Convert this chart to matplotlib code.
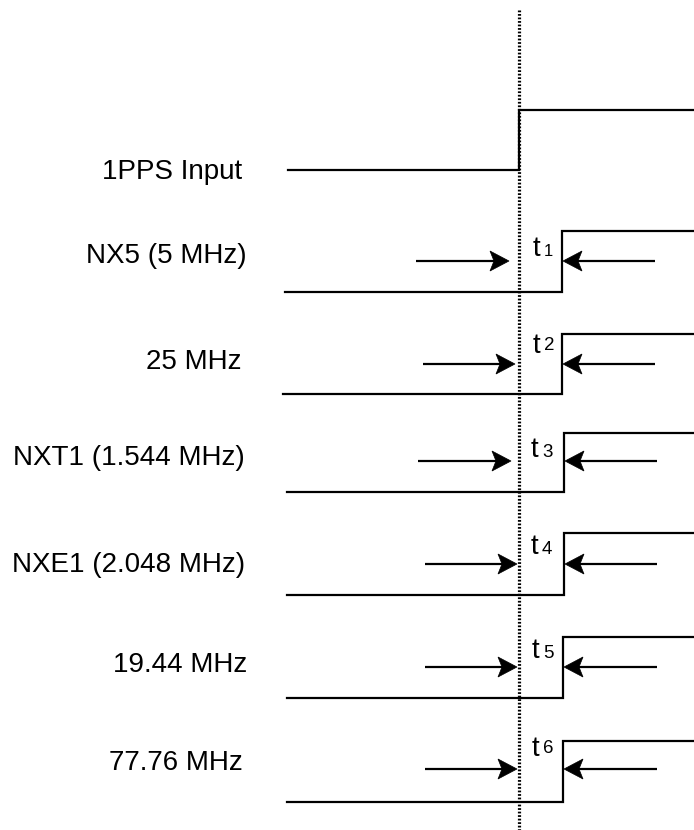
import matplotlib
matplotlib.use("Agg")
import matplotlib.pyplot as plt
from matplotlib.patches import Polygon

plt.rcParams['font.family'] = ['Liberation Sans', 'DejaVu Sans']

# ---- data (diagram coordinates, pixel-like units) ----
signal_names = ["NX5 (5 MHz)", "25 MHz", "NXT1 (1.544 MHz)",
                "NXE1 (2.048 MHz)", "19.44 MHz", "77.76 MHz"]
delay_labels = ["1", "2", "3", "4", "5", "6"]
high_levels = [231, 334, 433, 533, 637, 741]
low_levels = [292, 394, 492, 595, 698, 802]
edge_times = [562, 562, 564, 564, 563, 563]
arrow_levels = [261, 364, 461, 564, 667, 769]
left_arrow_start = [416, 423, 418, 425, 425, 425]
left_arrow_tip = [509, 515, 511, 517, 517, 517]
right_arrow_tail = [655, 655, 657, 657, 657, 657]
low_start = [285, 283, 287, 287, 287, 287]
label_baselines = [263, 369, 465, 572, 672, 770]
label_right = [247, 242, 245, 245, 247, 243]
t_x = [533, 533, 531, 531, 532, 532]
t_baseline = [256, 353, 457, 554, 658, 756]

pps_name = "1PPS Input"
pps_low, pps_high = 170, 110
pps_start, pps_edge, x_end = 288, 519, 694
ref_line_top, ref_line_bottom = 10, 830

# ---- styles ----
sub_size = {"1": 12}
sub_raise = {"2": 3, "6": 3}

fig = plt.figure(figsize=(6.94, 8.30), dpi=100)
ax = fig.add_axes([0, 0, 1, 1])
ax.set_xlim(0, 694)
ax.set_ylim(830, 0)
ax.axis('off')

lw = 1.6
HEAD_L, HEAD_W, NOTCH = 19, 10, 15


def arrow(x0, x1, y):
    d = 1 if x1 > x0 else -1
    back = x1 - d * HEAD_L
    notch = x1 - d * NOTCH
    ax.plot([x0, notch], [y, y], color='black', lw=lw, solid_capstyle='butt')
    ax.add_patch(Polygon([(x1, y), (back, y - HEAD_W), (notch, y),
                          (back, y + HEAD_W)], closed=True,
                         facecolor='black', edgecolor='black', lw=0.5))


# reference dotted line
ax.plot([pps_edge, pps_edge], [ref_line_top, ref_line_bottom], color='black',
        lw=2.3, linestyle=(0, (0.55, 0.55)), zorder=3)

# 1PPS input
ax.plot([pps_start, pps_edge, pps_edge, x_end],
        [pps_low, pps_low, pps_high, pps_high], color='black', lw=lw,
        solid_joinstyle='miter')
ax.text(242, 179, pps_name, ha='right', va='baseline', fontsize=20)

for i, name in enumerate(signal_names):
    e = edge_times[i]
    ax.plot([low_start[i], e, e, x_end],
            [low_levels[i], low_levels[i], high_levels[i], high_levels[i]],
            color='black', lw=lw, solid_joinstyle='miter')
    ax.text(label_right[i], label_baselines[i], name, ha='right',
            va='baseline', fontsize=20)
    y = arrow_levels[i]
    arrow(left_arrow_start[i], left_arrow_tip[i], y)
    arrow(right_arrow_tail[i], e + 1, y)
    ax.text(t_x[i], t_baseline[i], "t", ha='left', va='baseline', fontsize=20)
    d = delay_labels[i]
    ax.text(t_x[i] + 11, t_baseline[i] - sub_raise.get(d, 0), d,
            ha='left', va='baseline', fontsize=sub_size.get(d, 13.5))

fig.savefig("out.png", dpi=100, facecolor='white')
